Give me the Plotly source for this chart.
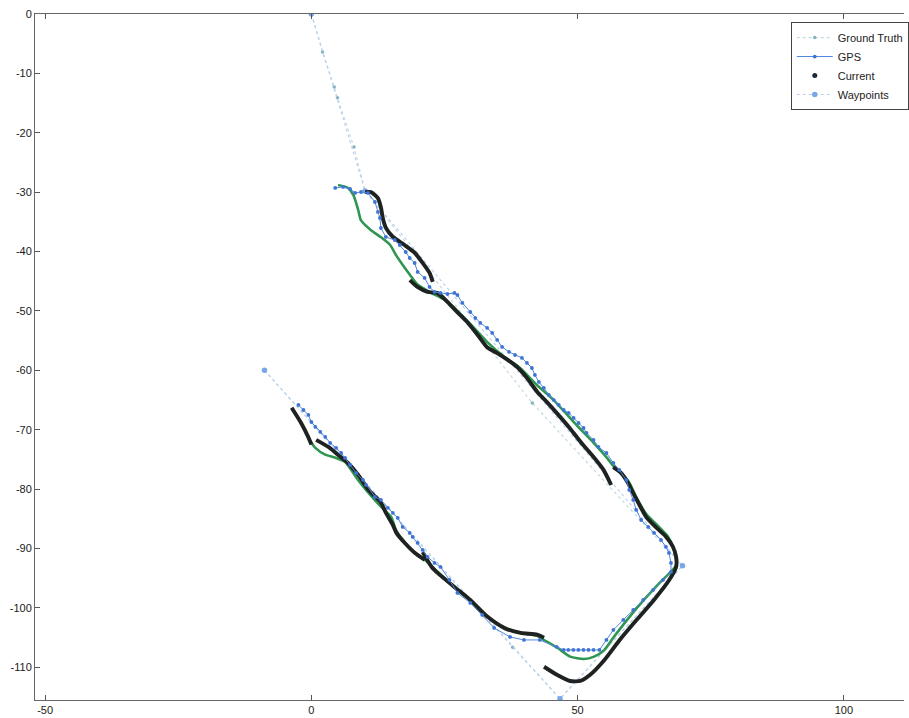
import plotly.graph_objects as go

# ---- reference route (ground truth) ----
gt_x = [0.0, 2.1, 4.3, 4.9, 8.0, 10.1, 41.5, 69.7, 46.7, 37.8, -8.8]
gt_y = [0.0, -6.4, -12.3, -14.1, -22.4, -29.8, -65.5, -92.9, -115.3, -106.6, -60.0]

# ---- planned waypoints ----
wp_x = [0.0, 10.1, 69.7, 46.7, -8.8]
wp_y = [0.0, -29.8, -92.9, -115.3, -60.0]

# ---- raw GPS fixes ----
gps_x = [4.48, 5.97, 7.28, 8.21, 9.33, 10.63, 11.94, 12.50, 12.87, 13.06, 13.99, 15.67,
         16.60, 17.72, 18.47, 19.40, 19.96, 21.27, 22.20, 23.13, 24.25, 25.56, 26.87,
         27.43, 28.36, 29.85, 30.78, 31.72, 33.02, 33.96, 34.89, 35.82, 37.13, 38.25,
         39.55, 40.49, 41.42, 41.98, 42.72, 43.66, 44.59, 45.52, 46.46, 47.39, 48.32,
         49.25, 50.19, 51.12, 51.68, 52.99, 53.92, 55.41, 56.72, 57.84, 59.14, 59.70,
         60.45, 61.01, 61.94, 63.25, 64.37, 65.67, 66.60, 67.16, 67.54, 67.54,
         66.04, 64.18, 62.31, 60.45, 58.58, 56.72, 55.41, 54.10, 53.00, 52.05, 51.10,
         50.15, 49.20, 48.25, 47.39, 46.08, 42.91, 39.93, 37.31, 34.33, 32.09, 29.85,
         27.43, 25.93, 24.25, 23.13, 21.83, 20.90, 19.96, 19.03, 18.47, 17.16, 16.23,
         15.30, 14.37, 13.06, 11.94, 10.26, 9.70, 8.40, 7.28, 6.34, 5.60, 4.66, 3.54,
         2.61, 1.68, 0.75, 0.00, -0.56, -1.49, -2.43]
gps_y = [-29.29, -29.12, -29.46, -30.13, -29.97, -30.13, -31.65, -33.33, -34.34, -36.03,
         -37.54, -38.05, -38.89, -40.07, -41.08, -41.92, -43.43, -44.44, -45.96, -46.80,
         -46.97, -47.14, -46.97, -47.31, -48.65, -50.17, -51.18, -52.02, -52.86, -53.70,
         -54.88, -56.06, -56.90, -57.41, -57.91, -58.75, -59.60, -60.77, -61.95, -62.96,
         -64.14, -64.98, -65.82, -66.67, -67.17, -68.01, -68.86, -69.70, -70.54, -71.72,
         -72.90, -73.91, -75.59, -76.77, -78.45, -80.13, -81.82, -83.50, -85.19, -86.36,
         -87.37, -88.55, -89.73, -90.74, -92.42, -93.94,
         -95.29, -96.97, -98.65, -100.34, -102.02, -103.70, -105.39, -107.07, -107.07,
         -107.07, -107.07, -107.07, -107.07, -107.07, -107.07, -106.57, -105.39, -105.39,
         -104.88, -103.37, -101.18, -99.16, -97.47, -95.29, -93.10, -92.42, -91.41,
         -90.24, -89.06, -88.05, -87.37, -86.36, -84.85, -84.01, -83.16, -81.82, -81.31,
         -79.29, -78.45, -77.27, -75.93, -74.75, -73.91, -73.06, -72.22, -71.21, -70.37,
         -69.53, -68.69, -67.51, -66.67, -65.82]

# ---- current position estimate, logged in separate runs ----
cur_segments_x = [
    [10.1, 11.2, 12.5, 13.1, 13.4, 14.0, 15.3, 17.5, 19.4, 20.9, 22.2, 22.8],
    [18.5, 20.0, 21.8, 23.7, 25.6, 27.4, 29.3, 31.2, 33.0, 34.9, 36.8, 38.6, 40.5,
     42.4, 44.2, 46.1, 48.5, 50.7, 53.0, 54.9, 56.3],
    [56.7, 58.2, 59.5, 60.4, 61.4, 62.9, 64.7, 66.6, 67.9, 68.5, 68.5, 67.2, 64.3,
     61.1, 57.9, 55.0, 52.3, 50.5, 48.6, 46.2, 43.7],
    [43.7, 42.4, 39.3, 36.3, 33.1, 29.9, 26.9, 23.7, 22.6, 20.9],
    [21.3, 19.4, 17.6, 16.0, 15.3, 14.0, 13.1, 10.8, 8.8, 6.9, 5.0, 3.2, 0.9],
    [-3.7, -1.9, -0.6, 0.0],
]
cur_segments_y = [
    [-30.0, -30.0, -31.0, -32.7, -34.3, -36.0, -37.5, -38.9, -40.2, -41.9, -43.6, -45.1],
    [-44.8, -46.0, -46.8, -47.0, -48.5, -50.2, -51.9, -54.0, -56.1, -57.1, -58.2,
     -59.4, -61.3, -63.6, -65.3, -67.2, -69.7, -72.2, -74.6, -76.8, -79.3],
    [-76.3, -77.3, -79.0, -80.6, -82.3, -84.7, -86.4, -88.0, -89.7, -91.4, -93.1,
     -95.3, -98.7, -102.0, -105.4, -108.8, -111.3, -112.3, -112.3, -111.3, -109.9],
    [-105.0, -104.5, -104.2, -103.4, -101.5, -98.7, -96.5, -94.1, -93.1, -90.6],
    [-91.9, -90.7, -89.1, -87.4, -86.0, -84.0, -82.3, -80.2, -77.6, -75.6, -74.2,
     -72.9, -71.7],
    [-66.3, -68.9, -71.2, -72.5],
]

# ---- filtered track ----
flt_x = [5.0, 6.9, 7.9, 8.8, 9.3, 11.2, 13.1, 14.8, 15.9, 17.2, 18.5, 20.0, 22.4,
         25.0, 27.4, 30.6, 33.0, 36.2, 39.2, 42.4, 45.5, 49.8, 53.0, 55.4, 56.9, 59.5,
         61.0, 62.9, 65.1, 67.0, 68.1, 68.5, 65.4, 62.4, 59.3, 56.8, 55.0, 53.1, 51.2,
         48.6, 46.2, 43.7, 42.4, 39.3, 36.3, 33.1, 29.9, 26.9, 23.7, 21.3, 19.4, 17.6,
         15.9, 15.0, 13.1, 10.7, 8.8, 6.3, 4.5, 2.6, 0.7, -0.2]
flt_y = [-28.8, -29.3, -30.5, -33.0, -34.7, -36.4, -37.6, -38.9, -40.6, -42.3, -43.9,
         -45.6, -46.9, -48.1, -50.0, -52.9, -55.2, -57.7, -59.6, -62.5, -65.0, -69.2,
         -72.2, -74.6, -76.3, -78.6, -81.3, -84.2, -86.2, -88.0, -90.2, -92.8, -95.8,
         -98.7, -102.0, -104.9, -107.1, -108.2, -108.6, -108.2, -106.7, -105.4, -104.7,
         -104.2, -103.4, -101.5, -98.7, -96.5, -93.9, -91.9, -90.7, -89.1, -86.9, -84.7,
         -83.0, -80.6, -78.5, -75.4, -74.7, -74.2, -73.0, -71.9]

# ---- axis ticks ----
x_ticks = [-50, 0, 50, 100]
x_tick_text = ["-50", "0", "50", "100"]
y_ticks = [0, -10, -20, -30, -40, -50, -60, -70, -80, -90, -100, -110]
y_tick_text = ["0", "-10", "-20", "-30", "-40", "-50", "-60", "-70", "-80", "-90", "-100", "-110"]


def join_segments(segs):
    out = []
    for i, s in enumerate(segs):
        if i:
            out.append(None)
        out.extend(s)
    return out


cur_x = join_segments(cur_segments_x)
cur_y = join_segments(cur_segments_y)

fig = go.Figure()

fig.add_trace(go.Scatter(
    x=gt_x, y=gt_y, name="Ground Truth", mode="lines+markers", legendrank=1,
    line=dict(color="#c2dbe0", width=1.2, dash="dot"),
    marker=dict(color="#86b2bf", size=3.5),
))
fig.add_trace(go.Scatter(
    x=wp_x, y=wp_y, name="Waypoints", mode="lines+markers", legendrank=4,
    line=dict(color="#b8cff0", width=1.1, dash="dot"),
    marker=dict(color="#7aa6e8", size=5.5),
))
fig.add_trace(go.Scatter(
    x=flt_x, y=flt_y, mode="lines", showlegend=False, hoverinfo="skip",
    line=dict(color="#2f9652", width=2.6, shape="spline", smoothing=0.6),
))
fig.add_trace(go.Scatter(
    x=cur_x, y=cur_y, mode="lines", showlegend=False,
    line=dict(color="#1e2220", width=3.9, shape="spline", smoothing=0.6),
))
# legend entry for the current-position dots
fig.add_trace(go.Scatter(
    x=[None], y=[None], name="Current", mode="markers", legendrank=3,
    marker=dict(color="#1e2a3a", size=5),
))
fig.add_trace(go.Scatter(
    x=gps_x, y=gps_y, name="GPS", mode="lines+markers", legendrank=2,
    line=dict(color="#5087de", width=1),
    marker=dict(color="#3f74d6", size=3.8),
))

axis_font = dict(family="Liberation Sans Narrow, Liberation Sans, Arial", size=11, color="#1a1a1a")

fig.update_layout(
    width=909, height=718,
    margin=dict(l=35, r=0, t=14, b=18),
    paper_bgcolor="white", plot_bgcolor="white",
    font=axis_font,
    legend=dict(
        x=0.8697, y=0.9883, xanchor="left", yanchor="top",
        bgcolor="white", bordercolor="#444444", borderwidth=1,
        font=dict(family="Liberation Sans Narrow, Liberation Sans, Arial", size=11, color="#222222"),
        itemwidth=36, tracegroupgap=0,
    ),
    xaxis=dict(
        range=[-51.9, 111.3], tickmode="array", tickvals=x_ticks, ticktext=x_tick_text,
        ticks="inside", ticklen=5, tickcolor="#555555", showgrid=False, zeroline=False,
        showline=True, linecolor="#666666", linewidth=1, mirror="ticks",
        tickfont=axis_font,
    ),
    yaxis=dict(
        range=[-115.5, 0], tickmode="array", tickvals=y_ticks, ticktext=y_tick_text,
        ticks="inside", ticklen=5, tickcolor="#555555", showgrid=False, zeroline=False,
        showline=True, linecolor="#666666", linewidth=1, mirror=False,
        tickfont=axis_font,
    ),
)

fig.write_html("out.html")
